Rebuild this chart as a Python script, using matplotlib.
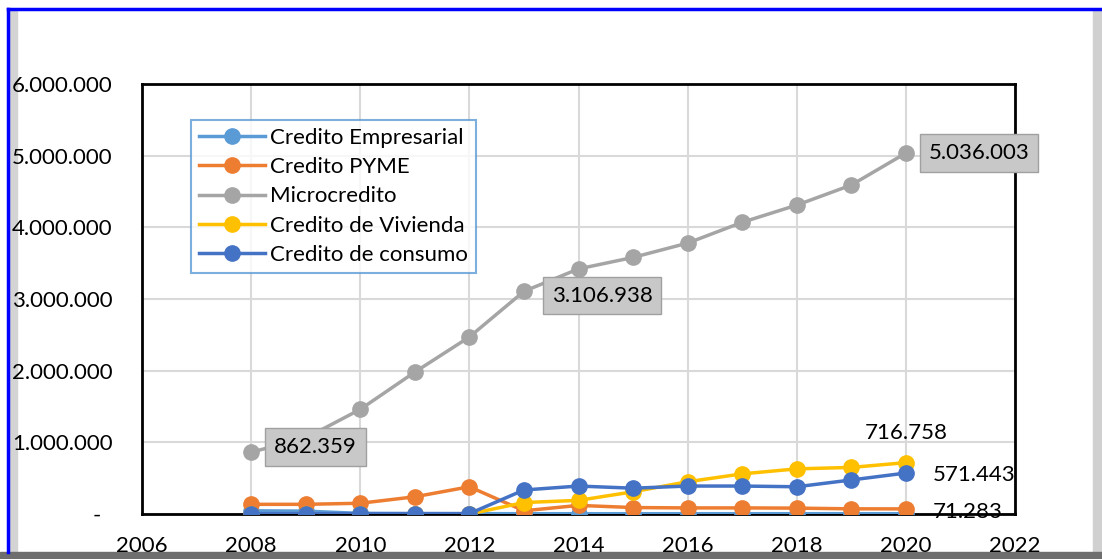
import matplotlib
matplotlib.use("Agg")
import matplotlib.pyplot as plt
from matplotlib.patches import Rectangle
from matplotlib.ticker import FuncFormatter

plt.rcParams["font.family"] = ["Lato", "DejaVu Sans"]

years = list(range(2008, 2021))
empresarial = [45000, 40000, 8000, 6000, 5000, 4000, 4000, 4000, 4000, 4000, 4000, 4000, 4000]
pyme = [135000, 135000, 150000, 240000, 380000, 45000, 120000, 90000, 85000, 85000, 82000, 72000, 71283]
microcredito = [862359, 1060000, 1460000, 1980000, 2470000, 3106938, 3420000,
                3580000, 3780000, 4070000, 4310000, 4590000, 5036003]
vivienda = [0, 0, 0, 0, 0, 160000, 190000, 310000, 450000, 560000, 630000, 650000, 716758]
consumo = [5000, 5000, 5000, 5000, 5000, 335000, 390000, 360000, 390000, 390000, 380000, 475000, 571443]

series = [
    ("Credito Empresarial", empresarial, "#5b9bd5"),
    ("Credito PYME", pyme, "#ed7d31"),
    ("Microcredito", microcredito, "#a5a5a5"),
    ("Credito de Vivienda", vivienda, "#ffc000"),
    ("Credito de consumo", consumo, "#4472c4"),
]

W, H = 1102, 559
FS = 16
fig = plt.figure(figsize=(W / 100, H / 100), dpi=100)

# frame: blue outline + grey bevel
fig.add_artist(Rectangle((9 / W, 0), 8 / W, 1 - 10 / H, transform=fig.transFigure,
                         color="#d4d4d4", zorder=-2))
fig.add_artist(Rectangle((1093 / W, 0), 9 / W, 1 - 10 / H, transform=fig.transFigure,
                         color="#d0d0d0", zorder=-2))
fig.add_artist(Rectangle((0, 0), 1, 7 / H, transform=fig.transFigure,
                         color="#6e6e6e", zorder=-2))
fig.add_artist(plt.Line2D([7.5 / W, 7.5 / W], [7 / H, 1 - 8.5 / H], color="#0000ff", lw=2.5))
fig.add_artist(plt.Line2D([7.5 / W, 1], [1 - 8.5 / H, 1 - 8.5 / H], color="#0000ff", lw=2.5))

ax = fig.add_axes([142 / W, 1 - 514 / H, (1015 - 142) / W, (514 - 84) / H])

for name, vals, col in series:
    ax.plot(years, vals, color=col, lw=2.5, marker="o", ms=11, label=name, zorder=3)

ax.set_xlim(2006, 2022)
ax.set_ylim(0, 6000000)
ax.set_xticks(range(2006, 2023, 2))
ax.set_yticks(range(0, 6000001, 1000000))
ax.yaxis.set_major_formatter(FuncFormatter(
    lambda v, p: "-  " if v == 0 else f"{int(v):,}".replace(",", ".")))
ax.tick_params(length=0, labelsize=FS, colors="black")
ax.tick_params(axis="y", pad=21)
ax.tick_params(axis="x", pad=16)
ax.grid(True, color="#d9d9d9", lw=1.5)
ax.set_axisbelow(True)
for s in ax.spines.values():
    s.set_color("black")
    s.set_linewidth(2)

box = dict(boxstyle="square,pad=0.4", fc="#c8c8c8", ec="#a0a0a0", lw=1)
ax.annotate("862.359", (years[0], microcredito[0]), xytext=(16.5, 3.5),
            textcoords="offset points", fontsize=FS, va="center", ha="left", bbox=box)
ax.annotate("3.106.938", (years[5], microcredito[5]), xytext=(20, -3),
            textcoords="offset points", fontsize=FS, va="center", ha="left", bbox=box)
ax.annotate("5.036.003", (years[-1], microcredito[-1]), xytext=(16.5, 0),
            textcoords="offset points", fontsize=FS, va="center", ha="left", bbox=box)
ax.annotate("716.758", (years[-1], vivienda[-1]), xytext=(-29.5, 21.6),
            textcoords="offset points", fontsize=FS, va="center", ha="left")
ax.annotate("571.443", (years[-1], consumo[-1]), xytext=(19.5, -1.4),
            textcoords="offset points", fontsize=FS, va="center", ha="left")
ax.annotate("71.283", (years[-1], pyme[-1]), xytext=(19.5, -2),
            textcoords="offset points", fontsize=FS, va="center", ha="left")

leg = ax.legend(loc="upper left", bbox_to_anchor=((191 - 142) / 873, 1 - (120 - 84) / 430),
                fontsize=FS, frameon=True, fancybox=False, borderpad=0.35,
                labelspacing=0.42, handlelength=3.0, handletextpad=0.2, borderaxespad=0)
leg.get_frame().set_edgecolor("#5b9bd5")
leg.get_frame().set_linewidth(1.5)

fig.savefig("out.png", dpi=100)
